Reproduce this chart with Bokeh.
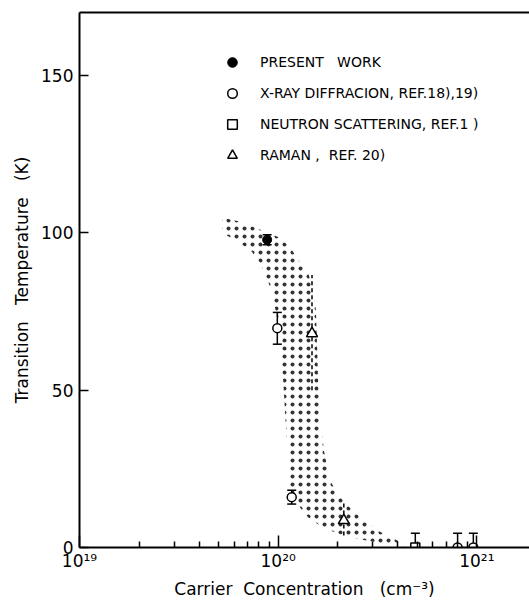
from bokeh.plotting import figure
from bokeh.models import (ColumnDataSource, Whisker, TeeHead, Legend, LegendItem,
                          FixedTicker, LinearAxis)
from bokeh.embed import file_html
from bokeh.resources import INLINE

# ---- data ----
present_n = [8.8e19]
present_t = [97.8]
present_lo = [96.2]
present_hi = [99.4]

xray_n = [9.9e19, 1.17e20, 8.0e20, 9.6e20]
xray_t = [69.7, 16.0, 0.0, 0.0]
xray_lo = [64.6, 13.8, 0.0, 0.0]
xray_hi = [74.7, 18.2, 4.5, 4.5]

neutron_n = [4.9e20]
neutron_t = [0.0]
neutron_lo = [0.0]
neutron_hi = [4.5]

raman_n = [1.48e20, 2.14e20]
raman_t = [68.0, 8.6]
raman_lo = [50.0, 3.8]
raman_hi = [86.6, 14.0]

# stippled band boundaries (log10 of concentration, temperature)
band_left_log = [19.72, 19.72, 19.86, 19.91, 19.96, 19.995, 20.01, 20.025, 20.035,
                 20.045, 20.05, 20.06, 20.11, 20.15, 20.23, 20.36, 20.53, 20.62]
band_left_t = [104.8, 100.0, 94.6, 90.4, 82.8, 73.2, 62.7, 53.2, 42.7,
               31.8, 23.6, 18.2, 12.7, 9.6, 6.1, 3.2, 1.3, 0.4]
band_right_log = [19.81, 19.91, 20.00, 20.06, 20.11, 20.15, 20.17, 20.19, 20.20,
                  20.21, 20.23, 20.26, 20.30, 20.36, 20.43, 20.50, 20.60, 20.64]
band_right_t = [103.5, 101.0, 98.7, 95.5, 90.4, 87.6, 82.8, 75.5, 55.4,
                42.7, 30.9, 21.3, 17.2, 12.7, 8.6, 5.4, 2.2, 0.4]

x_major_ticks = [1e19, 1e20, 1e21]
x_tick_labels = ["10\u00b9\u2079", "10\u00b2\u2070", "10\u00b2\u00b9"]
y_ticks = [0, 50, 100, 150]

NB = "\u00a0"
legend_labels = ["PRESENT" + NB * 3 + "WORK",
                 "X-RAY" + NB + "DIFFRACION," + NB + "REF.18),19)",
                 "NEUTRON" + NB + "SCATTERING," + NB + "REF.1" + NB + ")",
                 "RAMAN" + NB + "," + NB * 2 + "REF." + NB + "20)"]
x_title = "Carrier" + NB * 2 + "Concentration" + NB * 3 + "(cm\u207b\u00b3)"
y_title = "Transition" + NB * 3 + "Temperature" + NB * 3 + "(K)"

FONT = "DejaVu Sans"

p = figure(width=529, height=602, x_axis_type="log",
           x_range=(1e19, 10 ** 21.265), y_range=(0, 170),
           output_backend="svg", toolbar_location=None,
           min_border_left=79, min_border_right=0, min_border_top=12,
           min_border_bottom=55)
p.outline_line_color = None
p.xgrid.visible = False
p.ygrid.visible = False

bx = [10 ** v for v in band_left_log] + [10 ** v for v in band_right_log[::-1]]
by = band_left_t + band_right_t[::-1]
p.patch(bx, by, fill_alpha=0, line_color=None, hatch_pattern="dot",
        hatch_color="black", hatch_alpha=0.8, hatch_scale=8, hatch_weight=1)

def whisk(n, lo, hi):
    src = ColumnDataSource(dict(x=n, lo=lo, hi=hi))
    w = Whisker(source=src, base="x", upper="hi", lower="lo", dimension="height",
                line_width=1.5, line_color="black",
                upper_head=TeeHead(size=9, line_width=1.5, line_color="black"),
                lower_head=TeeHead(size=9, line_width=1.5, line_color="black"))
    p.add_layout(w)

whisk(present_n, present_lo, present_hi)
whisk(xray_n, xray_lo, xray_hi)
whisk(neutron_n, neutron_lo, neutron_hi)
p.segment(raman_n, raman_lo, raman_n, raman_hi, line_color="black",
          line_width=1.5, line_dash="4 3")

r_present = p.scatter(present_n, present_t, marker="circle", size=9,
                      fill_color="black", line_color="black")
r_xray = p.scatter(xray_n, xray_t, marker="circle", size=9,
                   fill_color="white", line_color="black", line_width=1.5)
r_neut = p.scatter(neutron_n, neutron_t, marker="square", size=9,
                   fill_color="white", line_color="black", line_width=1.5)
r_raman = p.scatter(raman_n, raman_t, marker="triangle", size=11,
                    fill_color="white", line_color="black", line_width=1.5)

legend = Legend(items=[
    LegendItem(label=legend_labels[0], renderers=[r_present]),
    LegendItem(label=legend_labels[1], renderers=[r_xray]),
    LegendItem(label=legend_labels[2], renderers=[r_neut]),
    LegendItem(label=legend_labels[3], renderers=[r_raman]),
], location=(141, 380), glyph_width=24, glyph_height=24, label_standoff=16,
    spacing=7, padding=0, margin=0, border_line_color=None,
    background_fill_alpha=0, label_text_font=FONT, label_text_font_size="14px",
    label_text_color="black", label_height=24)
p.add_layout(legend, "center")

# axes
xa = p.xaxis[0]
xa.ticker = FixedTicker(ticks=x_major_ticks,
                        minor_ticks=[m * 10 ** e for e in (19, 20) for m in range(2, 10)])
xa.major_label_overrides = dict(zip(x_major_ticks, x_tick_labels))
xa.major_tick_in = 12
xa.major_tick_out = 0
xa.minor_tick_in = 6
xa.minor_tick_out = 0
xa.axis_line_width = 2
xa.axis_line_color = "black"
xa.major_tick_line_width = 1.5
xa.minor_tick_line_width = 1.5
xa.major_tick_line_color = "black"
xa.minor_tick_line_color = "black"
xa.major_label_text_font = FONT
xa.major_label_text_font_size = "17px"
xa.major_label_text_color = "black"
xa.major_label_standoff = 3
xa.axis_label = x_title
xa.axis_label_text_font = FONT
xa.axis_label_text_font_size = "17px"
xa.axis_label_text_font_style = "normal"
xa.axis_label_text_color = "black"
xa.axis_label_standoff = 5

ya = p.yaxis[0]
ya.ticker = FixedTicker(ticks=y_ticks, minor_ticks=[])
ya.major_tick_in = 9
ya.major_tick_out = 0
ya.minor_tick_in = 0
ya.minor_tick_out = 0
ya.axis_line_width = 2
ya.axis_line_color = "black"
ya.major_tick_line_width = 1.5
ya.major_tick_line_color = "black"
ya.major_label_text_font = FONT
ya.major_label_text_font_size = "17px"
ya.major_label_text_color = "black"
ya.major_label_standoff = 6
ya.axis_label = y_title
ya.axis_label_text_font = FONT
ya.axis_label_text_font_size = "17px"
ya.axis_label_text_font_style = "normal"
ya.axis_label_text_color = "black"
ya.axis_label_standoff = 6

top = LinearAxis(ticker=FixedTicker(ticks=[]), major_label_text_font_size="0px",
                 major_tick_out=0, major_tick_in=0, minor_tick_in=0, minor_tick_out=0,
                 axis_line_width=2, axis_line_color="black", major_label_standoff=0)
p.add_layout(top, "above")

open("out.html", "w").write(file_html(p, INLINE))
